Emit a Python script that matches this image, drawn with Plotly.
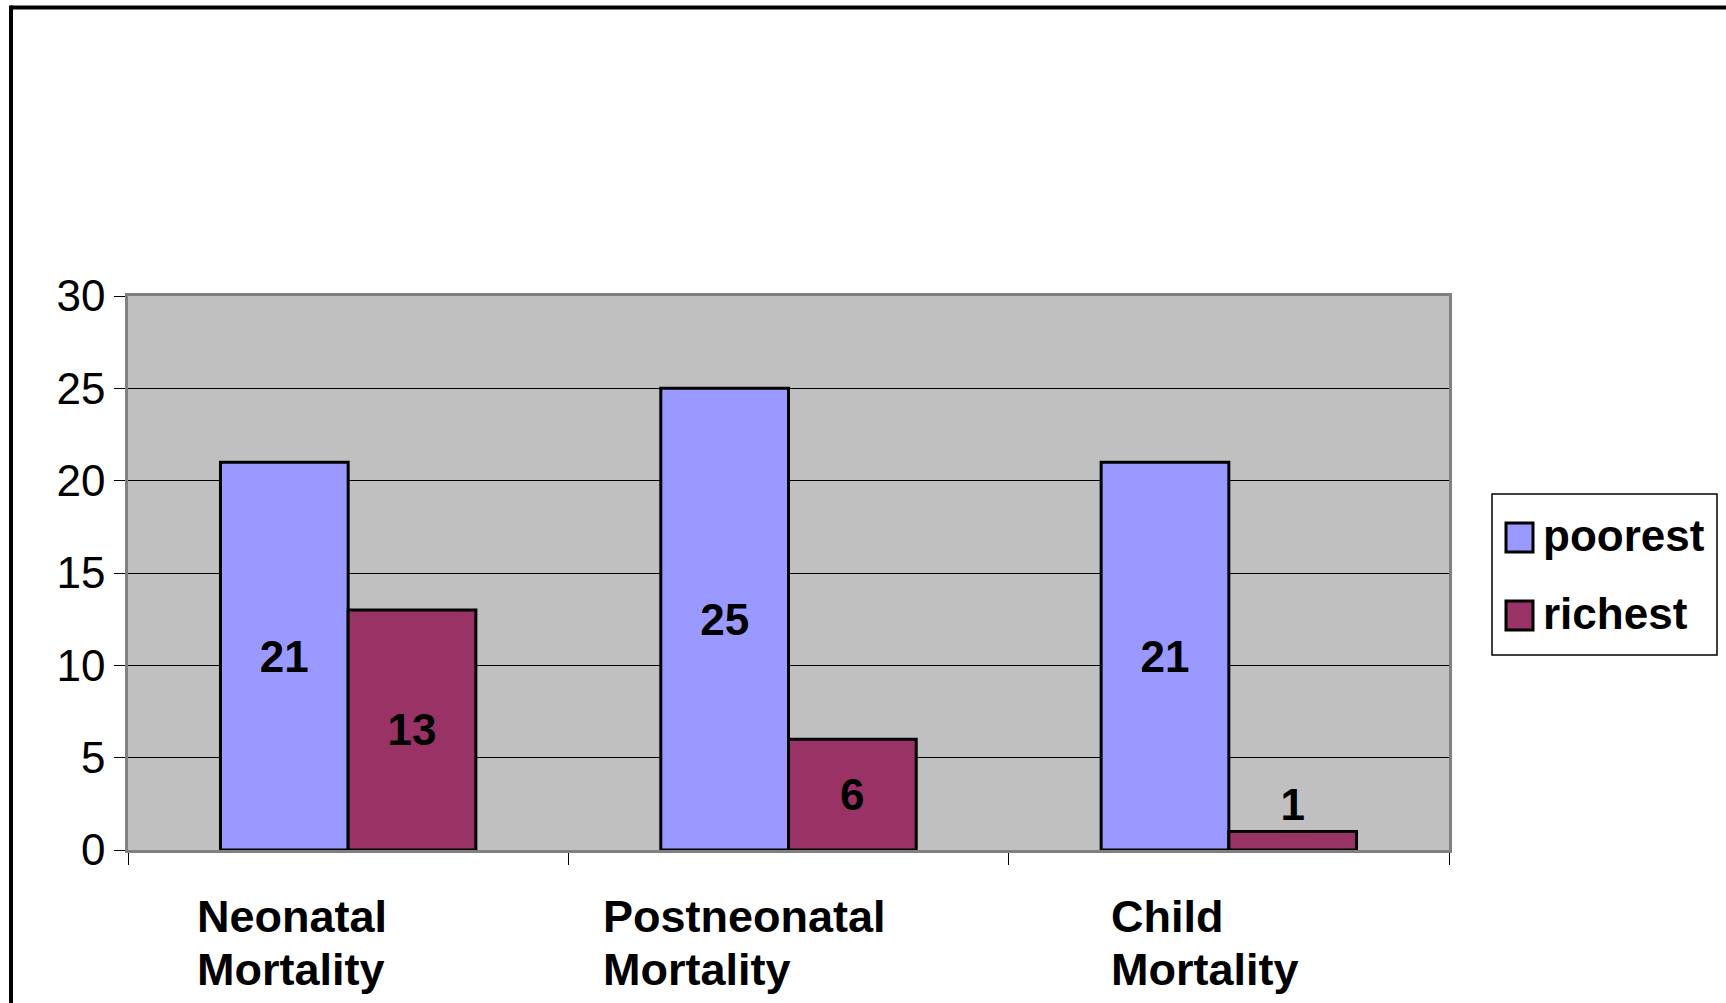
import plotly.graph_objects as go

# Mortality rates by wealth group
categories = ["Neonatal Mortality", "Postneonatal Mortality", "Child Mortality"]
series_names = ["poorest", "richest"]
poorest = [21, 25, 21]
richest = [13, 6, 1]
y_ticks = [0, 5, 10, 15, 20, 25, 30]

FONT = "Liberation Sans, Arial, Helvetica, sans-serif"
colors = {"poorest": "#9999FF", "richest": "#993366"}

W, H = 1726, 1003
PL, PR, PT, PB = 128, 1449, 296, 850  # plot area in pixels


def px(x):
    return (x - PL) / (PR - PL)


def py(y):
    return (PB - y) / (PB - PT)


def text_positions(values):
    # small bars carry their label above the bar
    return ["outside" if v < 3 else "inside" for v in values]


fig = go.Figure()
for name, vals in zip(series_names, [poorest, richest]):
    fig.add_trace(go.Bar(
        name=name,
        x=categories,
        y=vals,
        marker=dict(color=colors[name], line=dict(color="black", width=3)),
        text=[str(v) for v in vals],
        textposition=text_positions(vals),
        insidetextanchor="middle",
        textfont=dict(family=FONT, size=44, color="black", weight="bold"),
        constraintext="none",
        cliponaxis=False,
        showlegend=False,
    ))

# category labels, left aligned, one annotation per line
label_shift = [-153, -188, -120]
annotations = []
for cat, shift in zip(categories, label_shift):
    for line, ypix in zip(cat.split(" "), [916, 969]):
        annotations.append(dict(
            x=cat, xref="x", y=py(ypix), yref="paper",
            xanchor="left", yanchor="middle", xshift=shift,
            text=line, showarrow=False,
            font=dict(family=FONT, size=45, color="black", weight="bold"),
        ))

shapes = [
    # outer frame (top and left edges)
    dict(type="line", xref="paper", yref="paper",
         x0=px(11), x1=px(W + 20), y0=py(7.5), y1=py(7.5),
         line=dict(color="black", width=4)),
    dict(type="line", xref="paper", yref="paper",
         x0=px(11), x1=px(11), y0=py(5.5), y1=py(H + 20),
         line=dict(color="black", width=4)),
    # legend box
    dict(type="rect", xref="paper", yref="paper",
         x0=px(1492), x1=px(1717), y0=py(494), y1=py(655),
         fillcolor="white", line=dict(color="black", width=1.5)),
]
for name, (top, bot, ty) in zip(series_names, [(523, 552, 535), (601, 630, 613)]):
    shapes.append(dict(type="rect", xref="paper", yref="paper",
                       x0=px(1506), x1=px(1533), y0=py(top), y1=py(bot),
                       fillcolor=colors[name], line=dict(color="black", width=3)))
    annotations.append(dict(
        x=px(1541), xref="paper", y=py(ty), yref="paper",
        xanchor="left", yanchor="middle", text=name, showarrow=False,
        font=dict(family=FONT, size=44, color="black", weight="bold"),
    ))

fig.update_layout(
    width=W, height=H,
    margin=dict(l=PL, r=W - PR, t=PT, b=H - PB, pad=0),
    paper_bgcolor="white",
    plot_bgcolor="#C0C0C0",
    barmode="group",
    bargap=0.42,
    bargroupgap=0,
    font=dict(family=FONT, color="black"),
    shapes=shapes,
    annotations=annotations,
    showlegend=False,
)
fig.update_xaxes(
    showticklabels=False,
    ticks="outside", ticklen=12, tickwidth=1, tickcolor="black",
    tickson="boundaries",
    showline=True, linecolor="#808080", linewidth=2.5, mirror=True,
    showgrid=False, zeroline=False,
)
fig.update_yaxes(
    range=[0, 30], tickvals=y_ticks,
    ticks="outside", ticklen=11, tickwidth=1, tickcolor="black",
    tickfont=dict(family=FONT, size=44, color="black"),
    ticklabelstandoff=0,
    showline=True, linecolor="#808080", linewidth=2.5, mirror=True,
    showgrid=True, gridcolor="black", gridwidth=1,
    zeroline=False,
)

fig.write_html("out.html")
